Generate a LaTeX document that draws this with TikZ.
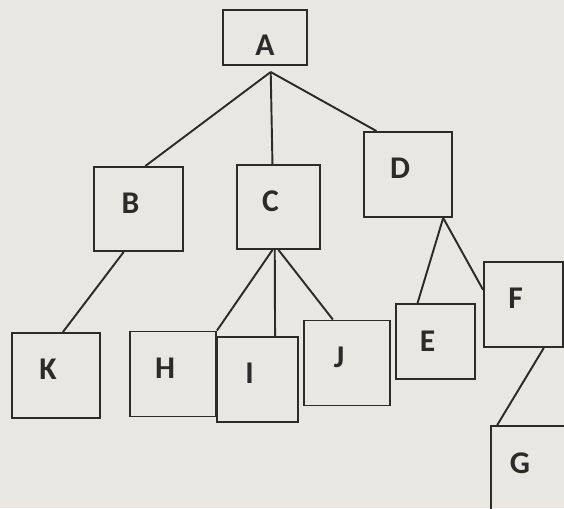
\documentclass[tikz,border=0pt]{standalone}
\usepackage{fontspec}
\setmainfont{Carlito}
\usepackage{xcolor}
\usepackage{tikz}
\definecolor{paper}{RGB}{233,231,226}
\definecolor{ink}{RGB}{45,43,42}
\tikzset{
  box/.style={
    draw=ink,
    line width=1.1pt,
    minimum width=1.72cm,
    minimum height=1.7cm,
    inner sep=0pt,
    text=ink,
    text height=0.4cm,
    text depth=0.24cm,
    execute at end node={\kern0.32cm},
    font=\bfseries\fontsize{18}{18}\selectfont
  },
  edge/.style={
    draw=ink,
    line width=1.1pt
  }
}

\begin{document}
\begin{tikzpicture}[x=0.02cm, y=-0.02cm]

\fill[paper] (0,0) rectangle (564,508);
\useasboundingbox (0,0) rectangle (564,508);

\node[box, minimum width=1.68cm, minimum height=1.1cm,
  text height=0.7cm, text depth=0cm, execute at begin node={\kern0.32cm}] (A) at (265,37.5) {A};

\node[box, minimum width=1.78cm, minimum height=1.68cm] (B) at (138.5,209) {B};
\node[box, minimum width=1.66cm, minimum height=1.68cm] (C) at (278.5,207) {C};
\node[box, minimum width=1.76cm] (D) at (408,174.5) {D};

\node[box, minimum width=1.76cm] (K) at (56,375.5) {K};
\node[box] (H) at (173,374) {H};
\node[box, minimum width=1.62cm] (I) at (257.5,379.5) {I};
\node[box] (J) at (347,363) {J};
\node[box, minimum width=1.58cm, minimum height=1.5cm, text depth=0cm] (E) at (435.5,341.5) {E};
\node[box, minimum width=1.58cm] (F) at (523.5,304.5) {F};
\node[box, minimum width=1.48cm, minimum height=1.72cm] (G) at (528,469) {G};

\coordinate (root) at (270.7,72);

\draw[edge] (root) -- (B.81);
\draw[edge] (root) -- (C.98);
\draw[edge] (root) -- (D.126);
\draw[edge] (B.251) -- (K.81);
\draw[edge] (C.262) -- (H.north east);
\draw[edge] (C.265) -- (I.68);
\draw[edge] (C.270) -- (J.108);
\draw[edge] (D.-51) -- (E.115);
\draw[edge] (D.-51) -- (F.160);
\draw[edge] (F.-65) -- (G.125);

\end{tikzpicture}
\end{document}
